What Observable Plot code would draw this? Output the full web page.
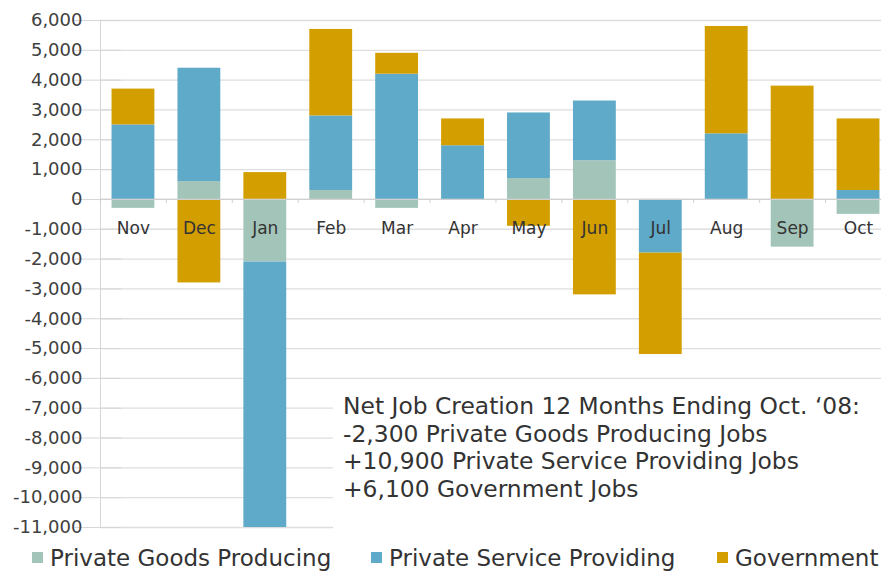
<!DOCTYPE html>
<html>
<head>
<meta charset="utf-8">
<script src="https://cdn.jsdelivr.net/npm/d3@7"></script>
<script src="https://cdn.jsdelivr.net/npm/@observablehq/plot@0.6"></script>
<style>
  html, body { margin: 0; padding: 0; background: #fff; }
  body { width: 881px; height: 574px; position: relative; overflow: hidden; font-family: "DejaVu Sans", Verdana, sans-serif; color: #333; }
  #note { position: absolute; left: 333px; top: 385px; width: 548px; height: 150px; background: #fff; box-sizing: border-box; padding: 8px 0 0 10px; font-size: 23.4px; line-height: 27.7px; color: #333; white-space: nowrap; }
  #legend { position: absolute; left: 0; top: 541px; width: 881px; height: 33px; display: flex; align-items: center; font-size: 23px; color: #333; white-space: nowrap; }
  .item { display: flex; align-items: center; position: absolute; }
  .sw { width: 11px; height: 11px; margin-right: 7px; }
</style>
</head>
<body>
<div id="chart"></div>
<div id="note"></div>
<div id="legend"></div>
<script>
const months = ["Nov","Dec","Jan","Feb","Mar","Apr","May","Jun","Jul","Aug","Sep","Oct"];
const seriesNames = ["Private Goods Producing", "Private Service Providing", "Government"];
const goods   = [-300,  600, -2100,  300, -300,   0,  700,  1300,     0,    0, -1600, -500];
const service = [2500, 3800, -8900, 2500, 4200, 1800, 2200, 2000, -1800, 2200,     0,  300];
const gov     = [1200, -2800,  900, 2900,  700,  900, -900, -3200, -3400, 3600, 3800, 2400];
const colors  = ["#a3c5b9", "#5fa9c9", "#d39f00"];
const yTicks  = d3.range(-11000, 6001, 1000);
const noteLines = [
  "Net Job Creation 12 Months Ending Oct. \u201808:",
  "-2,300 Private Goods Producing Jobs",
  "+10,900 Private Service Providing Jobs",
  "+6,100 Government Jobs"
];

const values = [goods, service, gov];
const data = [];
months.forEach((m, i) => {
  seriesNames.forEach((s, j) => data.push({month: m, series: s, value: values[j][i]}));
});

const fmt = d => d3.format(",")(d).replace("\u2212", "-");
const first = () => months[0];

const chart = Plot.plot({
  width: 881,
  height: 540,
  marginLeft: 100,
  marginRight: -10,
  marginTop: 20,
  marginBottom: 13,
  style: {fontFamily: "DejaVu Sans, Verdana, sans-serif", color: "#333", background: "#fff"},
  x: {domain: months, paddingInner: 0.35, paddingOuter: 0.175, round: false, axis: null},
  y: {domain: [-11000, 6000], axis: null},
  color: {domain: seriesNames, range: colors},
  marks: [
    Plot.ruleY(yTicks, {y: d => d, stroke: "#dedede", strokeWidth: 1.3}),
    Plot.ruleX([months[0]], {x: d => d, dx: -33, y1: yTicks[0], y2: yTicks[yTicks.length - 1], stroke: "#d6d6d6"}),
    Plot.ruleY(yTicks, {y: d => d, x1: first, x2: first, dx: -33, insetLeft: -4, stroke: "#d6d6d6"}),
    Plot.text(yTicks, {y: d => d, x: first, dx: -51, text: fmt, textAnchor: "end", fontSize: 18, fill: "#404040"}),
    Plot.barY(data, {x: "month", y: "value", fill: "series"}),
    Plot.ruleY([0], {stroke: "#d0d0d0", strokeWidth: 1.3}),
    Plot.ruleX(months, {x: d => d, dx: -33, y1: () => 0, y2: () => 0, insetBottom: -4, stroke: "#d0d0d0"}),
    Plot.text(months, {x: d => d, y: () => 0, dy: 29, text: d => d, fontSize: 17, fill: "#333"})
  ]
});
document.getElementById("chart").appendChild(chart);

const note = document.getElementById("note");
noteLines.forEach(t => { const d = document.createElement("div"); d.textContent = t; note.appendChild(d); });

const legend = document.getElementById("legend");
const legendX = [32, 371, 717];
seriesNames.forEach((s, i) => {
  const it = document.createElement("div");
  it.className = "item";
  it.style.left = legendX[i] + "px";
  const sw = document.createElement("span");
  sw.className = "sw";
  sw.style.background = colors[i];
  const tx = document.createElement("span");
  tx.textContent = s;
  it.appendChild(sw); it.appendChild(tx);
  legend.appendChild(it);
});
</script>
</body>
</html>
